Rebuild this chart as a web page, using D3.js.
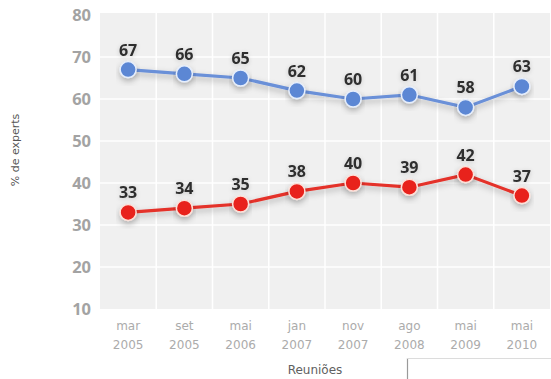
<!DOCTYPE html>
<html>
<head>
<meta charset="utf-8">
<script src="https://cdn.jsdelivr.net/npm/d3@7"></script>
<style>
  html, body { margin: 0; padding: 0; background: #fff; }
  svg { display: block; }
</style>
</head>
<body>
<svg id="chart" width="551" height="379"></svg>
<script>
// Reuniões (meetings) and share of experts per answer
const meetings = ["mar 2005", "set 2005", "mai 2006", "jan 2007", "nov 2007", "ago 2008", "mai 2009", "mai 2010"];
const blueSeries = [67, 66, 65, 62, 60, 61, 58, 63];
const redSeries  = [33, 34, 35, 38, 40, 39, 42, 37];
const yTicks = [10, 20, 30, 40, 50, 60, 70, 80];

const svg = d3.select("#chart");
const plot = { left: 100, right: 550, top: 15, bottom: 309 };

const x = d3.scaleBand().domain(meetings).range([plot.left, plot.right]);
const y = d3.scaleLinear().domain([10, 80]).range([plot.bottom, plot.top]);

// soft shadow under lines and markers
const defs = svg.append("defs");
const f = defs.append("filter").attr("id", "shadow")
  .attr("x", "-20%").attr("y", "-50%").attr("width", "140%").attr("height", "200%");
f.append("feDropShadow").attr("dx", 0).attr("dy", 3).attr("stdDeviation", 3)
  .attr("flood-color", "#000").attr("flood-opacity", 0.28);
const tf = defs.append("filter").attr("id", "halo")
  .attr("x", "-30%").attr("y", "-30%").attr("width", "160%").attr("height", "160%");
tf.append("feDropShadow").attr("dx", 0).attr("dy", 1).attr("stdDeviation", 2)
  .attr("flood-color", "#000").attr("flood-opacity", 0.18);

// plot background
svg.append("rect")
  .attr("x", plot.left).attr("y", plot.top - 2)
  .attr("width", plot.right - plot.left).attr("height", plot.bottom - plot.top + 2)
  .attr("fill", "#f0f0f0");

// horizontal grid lines
svg.append("g").selectAll("line")
  .data(yTicks.filter(t => t > 10 && t < 80))
  .join("line")
  .attr("x1", plot.left).attr("x2", plot.right)
  .attr("y1", d => y(d)).attr("y2", d => y(d))
  .attr("stroke", "#fff").attr("stroke-width", 1.5);

// vertical separators between meetings
svg.append("g").selectAll("line")
  .data(meetings.slice(1))
  .join("line")
  .attr("x1", d => x(d)).attr("x2", d => x(d))
  .attr("y1", plot.top - 2).attr("y2", plot.bottom)
  .attr("stroke", "#fff").attr("stroke-width", 1.5);

// y axis
const yAxis = svg.append("g")
  .attr("transform", `translate(${plot.left - 9},0)`)
  .call(d3.axisLeft(y).tickValues(yTicks).tickSize(0).tickPadding(0));
yAxis.select(".domain").remove();
yAxis.selectAll("text")
  .attr("font-family", "'Open Sans', sans-serif")
  .attr("font-weight", 700)
  .attr("font-size", 16.5)
  .attr("fill", "#a3a3a3")
  .attr("dy", "0.35em");

// x axis, two-line labels
const xAxis = svg.append("g")
  .attr("transform", `translate(0,${plot.bottom})`)
  .call(d3.axisBottom(x).tickSize(0).tickPadding(0));
xAxis.select(".domain").remove();
xAxis.selectAll("text").each(function(d) {
  const parts = d.split(" ");
  const t = d3.select(this).text(null)
    .attr("font-family", "'DejaVu Sans', sans-serif")
    .attr("font-size", 12)
    .attr("fill", "#ababab")
    .attr("y", 0).attr("dy", null);
  t.append("tspan").attr("x", 0).attr("y", 21).text(parts[0]);
  t.append("tspan").attr("x", 0).attr("y", 40).text(parts[1]);
});

// axis titles
svg.append("text")
  .attr("transform", "translate(19,150) rotate(-90)")
  .attr("text-anchor", "middle")
  .attr("font-family", "'DejaVu Sans', sans-serif")
  .attr("font-size", 11)
  .attr("fill", "#555")
  .text("% de experts");

svg.append("text")
  .attr("x", 315).attr("y", 374)
  .attr("text-anchor", "middle")
  .attr("font-family", "'DejaVu Sans', sans-serif")
  .attr("font-size", 12)
  .attr("fill", "#606060")
  .text("Reuniões");

// series
const cx = d => x(d) + x.bandwidth() / 2;
const series = [
  { values: blueSeries, line: "#6b90d8", fill: "#5b87d4", stroke: "#e6eefc" },
  { values: redSeries,  line: "#e4322a", fill: "#e8201a", stroke: "#fde0d8" }
];
const lineGen = d3.line().x(d => cx(d.m)).y(d => y(d.v));

series.forEach(s => {
  const pts = meetings.map((m, i) => ({ m, v: s.values[i] }));
  const g = svg.append("g");
  g.append("path")
    .datum(pts)
    .attr("d", lineGen)
    .attr("fill", "none")
    .attr("stroke", s.line)
    .attr("stroke-width", 3.2)
    .attr("filter", "url(#shadow)");
  g.selectAll("circle")
    .data(pts)
    .join("circle")
    .attr("cx", d => cx(d.m)).attr("cy", d => y(d.v))
    .attr("r", 8)
    .attr("fill", s.fill)
    .attr("stroke", s.stroke)
    .attr("stroke-width", 1.5)
    .attr("filter", "url(#shadow)");
  g.selectAll("text")
    .data(pts)
    .join("text")
    .attr("x", d => cx(d.m)).attr("y", d => y(d.v) - 14)
    .attr("text-anchor", "middle")
    .attr("font-family", "'Open Sans', sans-serif")
    .attr("font-weight", 700)
    .attr("font-size", 16)
    .attr("fill", "#2e2e2e")
    .attr("filter", "url(#halo)")
    .text(d => d.v);
});

// overlay panel at bottom right
const panel = svg.append("g");
panel.append("rect")
  .attr("x", 407).attr("y", 358).attr("width", 150).attr("height", 30)
  .attr("fill", "#fff");
panel.append("line")
  .attr("x1", 407.5).attr("x2", 407.5).attr("y1", 358).attr("y2", 379)
  .attr("stroke", "#9a9a9a").attr("stroke-width", 1.2);
panel.append("line")
  .attr("x1", 407).attr("x2", 551).attr("y1", 358.5).attr("y2", 358.5)
  .attr("stroke", "#dcdcdc").attr("stroke-width", 1);
</script>
</body>
</html>
